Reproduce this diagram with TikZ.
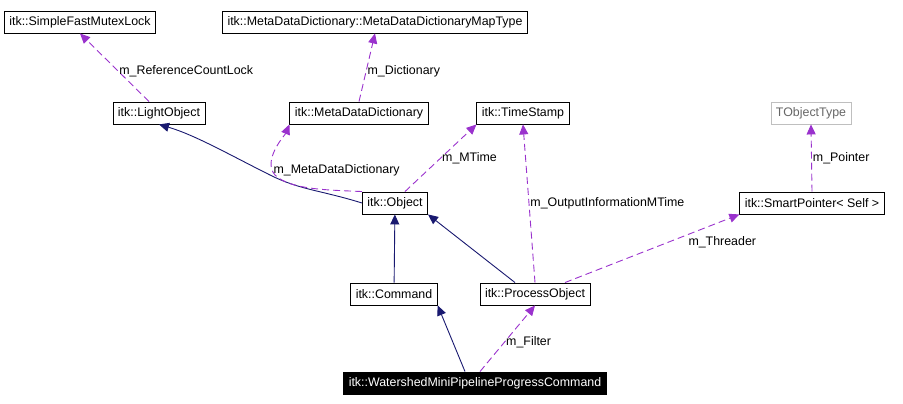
\documentclass[tikz,border=0pt]{standalone}
\usepackage{fontspec}
\setmainfont{Liberation Sans}
\usetikzlibrary{arrows.meta}
\definecolor{edgeblue}{HTML}{191970}
\definecolor{edgepurple}{HTML}{9A32CD}
\begin{document}
\begin{tikzpicture}[
x=1pt, y=-1pt,
font=\fontsize{12.4}{14}\selectfont,
classnode/.style={
draw,
line width=0.9pt,
minimum height=22pt,
inner xsep=5pt,
inner ysep=0pt,
},
inherit/.style={edgeblue, line width=0.9pt, arrows={-Triangle[length=10pt, width=9pt]}},
usage/.style={edgepurple, line width=0.9pt, dash pattern=on 7pt off 4pt, arrows={-Triangle[length=10pt, width=9pt]}},
elabel/.style={text=black, inner sep=1pt},
]
\useasboundingbox (0,0) rectangle (903,404);

% class boxes
\node [classnode] at (80,22) (mutex) {itk::SimpleFastMutexLock};
\node [classnode] at (375,22) (maptype) {itk::MetaDataDictionary::MetaDataDictionaryMapType};
\node [classnode] at (159,113) (light) {itk::LightObject};
\node [classnode] at (359,113) (dict) {itk::MetaDataDictionary};
\node [classnode] at (523,113) (stamp) {itk::TimeStamp};
\node [classnode, draw=gray!50, text=gray!80!black] at (811,113) (tobj) {TObjectType};
\node [classnode] at (395,203) (object) {itk::Object};
\node [classnode] at (812,203) (smart) {itk::SmartPointer< Self >};
\node [classnode] at (394,294) (command) {itk::Command};
\node [classnode] at (535,294) (process) {itk::ProcessObject};
\node [classnode, fill=black, text=white] at (475,383) (water) {itk::WatershedMiniPipelineProgressCommand};

% inheritance
\draw [inherit] (object.west) .. controls (320,190) and (300,190) .. (270,175)
.. controls (230,155) and (195,135) .. (light.south);
\draw [inherit] (command) -- (object);
\draw [inherit] (process.north) ++(-20,0) coordinate (p0) (p0) -- (object.south east);
\draw [inherit] (water.north) ++(-10,0) coordinate (w1) (w1) -- (command.south east);

% members
\draw [usage] (water.north) ++(5,0) coordinate (w2) (w2) -- node[elabel, right, pos=0.45] {m\_Filter} (process.south);
\draw [usage] (light.north) ++(-10,0) coordinate (l1) (l1) -- node[elabel, right, pos=0.45] {m\_ReferenceCountLock} (mutex.south);
\draw [usage] (dict.north) -- node[elabel, right, pos=0.45] {m\_Dictionary} (maptype.south);
\draw [usage] (object.north west) .. controls (330,190) and (290,190) .. (275,175)
.. controls (262,160) and (285,135) .. node[elabel, right, pos=0.1] {m\_MetaDataDictionary} (dict.south west);
\draw [usage] (object.north) ++(10,0) coordinate (o1) (o1) -- node[elabel, right, pos=0.5] {m\_MTime} (stamp.south west);
\draw [usage] (process.north) -- node[elabel, right, pos=0.5] {m\_OutputInformationMTime} (stamp.south);
\draw [usage] (process.north) ++(30,0) coordinate (p1) (p1) -- node[elabel, below right, pos=0.7] {m\_Threader} (smart.south west);
\draw [usage] (smart.north) -- node[elabel, right, pos=0.5] {m\_Pointer} (tobj.south);

\end{tikzpicture}
\end{document}
